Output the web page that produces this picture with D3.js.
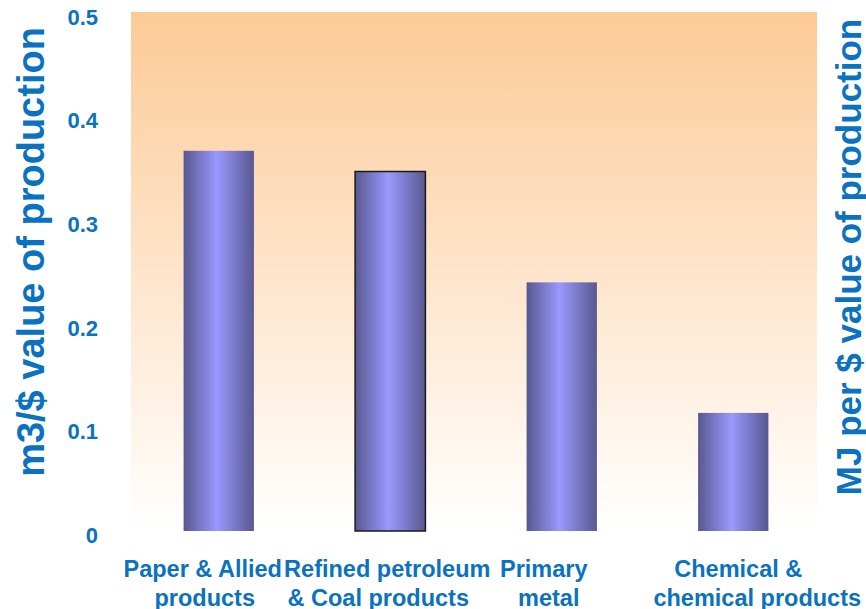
<!DOCTYPE html>
<html>
<head>
<meta charset="utf-8">
<script src="https://cdn.jsdelivr.net/npm/d3@7"></script>
<style>
  body { margin: 0; background: #fff; }
  svg { display: block; font-family: "Liberation Sans", Arial, sans-serif; }
</style>
</head>
<body>
<svg id="chart" width="866" height="609"></svg>
<script>
// data
var categories = ["Paper & Allied|products", "Refined petroleum|& Coal products", "Primary|metal", "Chemical &|chemical products"];
var values = [0.367, 0.347, 0.240, 0.114];
var outlined = [false, true, false, false];
var yTicks = [0, 0.1, 0.2, 0.3, 0.4, 0.5];

// label nudges relative to the bar centre (line 1, line 2), as in the picture
var labelShift = [[-16, -14], [-3, -12], [-18, -13], [5, 24]];

var blue = "#0A72C0";
var svg = d3.select("#chart");
var mLeft = 131, mRight = 817, mTop = 13, mBottom = 531;

var x = d3.scaleBand()
  .domain(d3.range(categories.length))
  .range([mLeft + 2, mRight + 2])
  .paddingInner(0.59)
  .paddingOuter(0.295);

var y = d3.scaleLinear()
  .domain([0, 0.5])
  .range([mBottom, mTop]);

var defs = svg.append("defs");
var bg = defs.append("linearGradient").attr("id", "bg")
  .attr("x1", 0).attr("y1", 0).attr("x2", 0).attr("y2", 1);
bg.append("stop").attr("offset", "0%").attr("stop-color", "#FCCA96");
bg.append("stop").attr("offset", "100%").attr("stop-color", "#FFFFFF");

var bargrad = defs.append("linearGradient").attr("id", "bar")
  .attr("x1", 0).attr("y1", 0).attr("x2", 1).attr("y2", 0);
bargrad.append("stop").attr("offset", "0%").attr("stop-color", "#585890");
bargrad.append("stop").attr("offset", "47%").attr("stop-color", "#9999FF");
bargrad.append("stop").attr("offset", "100%").attr("stop-color", "#585890");

// plot background
svg.append("rect")
  .attr("x", mLeft).attr("y", mTop - 1)
  .attr("width", mRight - mLeft).attr("height", mBottom - mTop + 1)
  .attr("fill", "url(#bg)");

// bars
svg.selectAll("rect.bar")
  .data(values)
  .join("rect")
  .attr("class", "bar")
  .attr("x", (d, i) => x(i))
  .attr("y", d => y(d))
  .attr("width", x.bandwidth())
  .attr("height", d => y(0) - y(d))
  .attr("fill", "url(#bar)")
  .attr("stroke", (d, i) => outlined[i] ? "#1a1a1a" : "none")
  .attr("stroke-width", 1.5);

// y tick labels
svg.selectAll("text.ytick")
  .data(yTicks)
  .join("text")
  .attr("class", "ytick")
  .attr("x", 98)
  .attr("y", d => y(d) + 4)
  .attr("dy", "0.35em")
  .attr("text-anchor", "end")
  .attr("fill", blue)
  .attr("font-weight", "bold")
  .attr("font-size", 22)
  .text(d => d === 0 ? "0" : d3.format(".1f")(d));

// category labels, two lines each
var cat = svg.selectAll("text.cat")
  .data(categories)
  .join("text")
  .attr("class", "cat")
  .attr("text-anchor", "middle")
  .attr("fill", blue)
  .attr("font-weight", "bold")
  .attr("font-size", 23.5);
cat.selectAll("tspan")
  .data((d, i) => d.split("|").map((s, j) => ({ s: s, i: i, j: j })))
  .join("tspan")
  .attr("x", d => x(d.i) + x.bandwidth() / 2 + labelShift[d.i][d.j])
  .attr("y", d => 577 + d.j * 29)
  .text(d => d.s);

// axis titles
svg.append("text")
  .attr("transform", "translate(44,252) rotate(-90)")
  .attr("text-anchor", "middle")
  .attr("fill", blue)
  .attr("font-weight", "bold")
  .attr("font-size", 38)
  .text("m3/$ value of production");

svg.append("text")
  .attr("transform", "translate(861,257) rotate(-90)")
  .attr("text-anchor", "middle")
  .attr("fill", blue)
  .attr("font-weight", "bold")
  .attr("font-size", 35)
  .text("MJ per $ value of production");
</script>
</body>
</html>
